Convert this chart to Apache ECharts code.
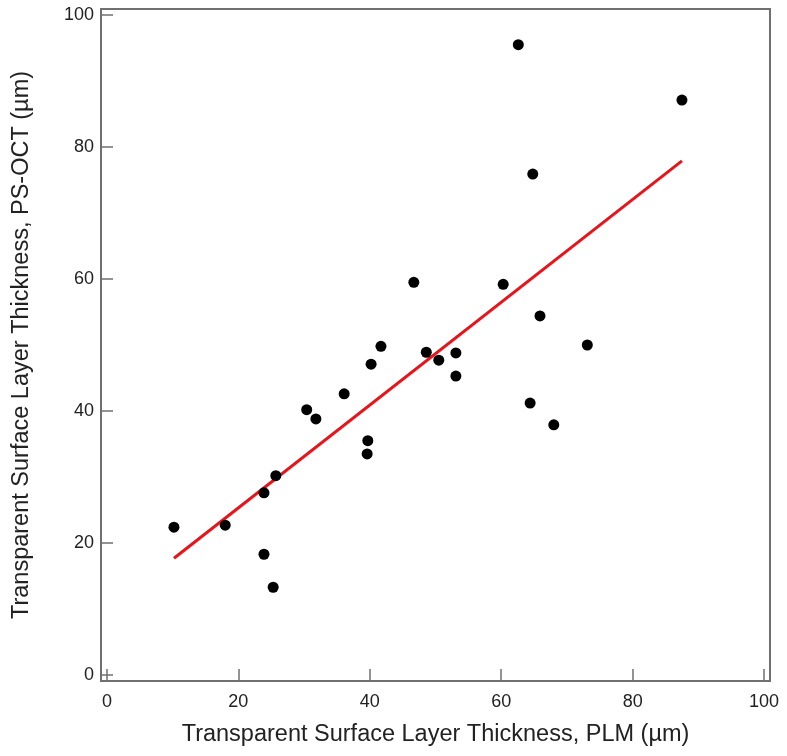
<!DOCTYPE html>
<html>
<head>
<meta charset="utf-8">
<script src="https://cdn.jsdelivr.net/npm/echarts@6/dist/echarts.min.js"></script>
<style>
  html, body { margin: 0; padding: 0; background: #fff; }
  #chart { width: 787px; height: 756px; }
</style>
</head>
<body>
<div id="chart"></div>
<script>
// PLM thickness (x) vs PS-OCT thickness (y), in µm
const plm = [10.2, 18.0, 23.9, 25.3, 23.9, 25.7, 30.4, 31.8, 36.1, 39.6, 39.7, 40.2, 41.7,
    46.7, 48.6, 50.5, 53.1, 53.1, 60.3, 62.6, 64.4, 64.8, 65.9, 68.0, 73.1, 87.5];
const psoct = [22.4, 22.7, 18.3, 13.3, 27.6, 30.2, 40.2, 38.8, 42.6, 33.5, 35.5, 47.1, 49.8,
    59.5, 48.9, 47.7, 48.8, 45.3, 59.2, 95.5, 41.2, 75.9, 54.4, 37.9, 50.0, 87.1];
// regression line end points
const fitX = [10.2, 87.5];
const fitY = [17.7, 77.9];
const ticks = [0, 20, 40, 60, 80, 100];

const axisColor = '#707070';
const textColor = '#222';
const font = 'Liberation Sans, Arial, sans-serif';

const chart = echarts.init(document.getElementById('chart'));

const axisCommon = (name, gap, labelMargin) => ({
    type: 'value',
    min: -0.9,
    max: 100.9,
    name: name,
    nameLocation: 'middle',
    nameGap: gap,
    nameTextStyle: { fontSize: 23.5, color: textColor, fontFamily: font },
    splitLine: { show: false },
    axisLine: { show: true, onZero: false, lineStyle: { color: axisColor, width: 2 } },
    axisTick: { show: true, inside: true, length: 12, customValues: ticks, lineStyle: { color: axisColor, width: 1.5 } },
    axisLabel: { customValues: ticks, fontSize: 18, color: textColor, fontFamily: font, margin: labelMargin }
});

chart.setOption({
    animation: false,
    grid: {
        left: 101, right: 17, top: 9, bottom: 75,
        outerBoundsMode: 'none',
        show: true, borderColor: axisColor, borderWidth: 2, backgroundColor: 'transparent'
    },
    xAxis: axisCommon('Transparent Surface Layer Thickness, PLM (µm)', 42, 12),
    yAxis: axisCommon('Transparent Surface Layer Thickness, PS-OCT (µm)', 67, 7),
    series: [
        {
            type: 'line',
            data: fitX.map((x, i) => [x, fitY[i]]),
            symbol: 'none',
            lineStyle: { color: '#e8141b', width: 3 },
            z: 2
        },
        {
            type: 'scatter',
            data: plm.map((x, i) => [x, psoct[i]]),
            symbolSize: 11,
            itemStyle: { color: '#000', opacity: 1 },
            z: 3
        }
    ]
});
</script>
</body>
</html>
